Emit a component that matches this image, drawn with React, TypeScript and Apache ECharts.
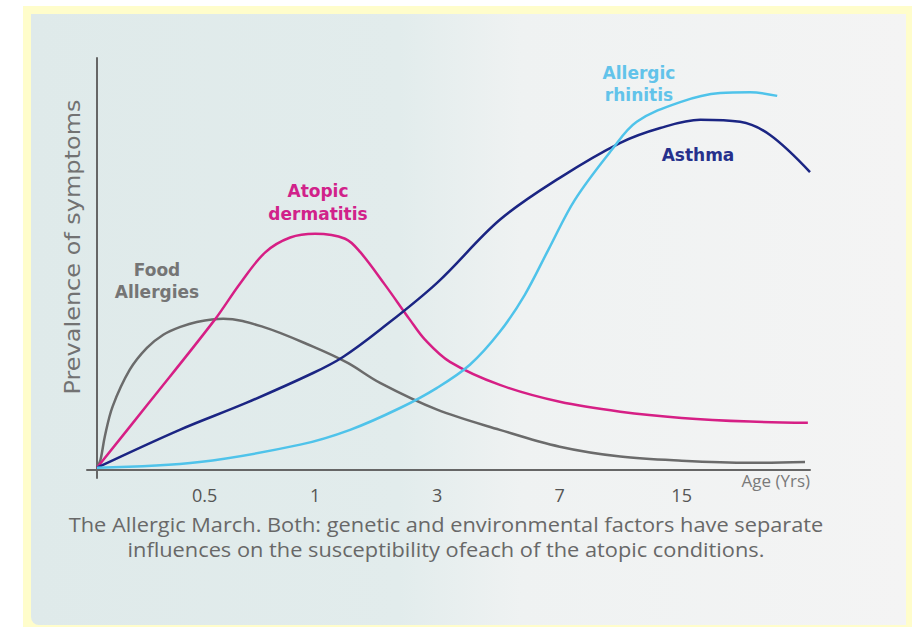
import React, { useEffect, useRef } from "react";
import * as echarts from "echarts";

// x positions are on a 0..100 "age scale" track; y is prevalence 0..100
const ageTickLabels = ["0.5", "1", "3", "7", "15"];
const ageTickPos = [15.1, 30.6, 47.7, 64.9, 82.0];

const foodAllergies: [number, number][] = [
  [0, 0.5], [0.5, 2.5], [1.1, 8.1], [2.2, 15.4], [4.6, 24.3], [7, 29.6], [9.3, 32.8],
  [11.7, 34.7], [14, 35.9], [17.7, 36.7], [23.3, 34.7], [30.3, 29.9], [35.1, 26],
  [39.7, 21.1], [47.7, 14.6], [56.5, 9.7], [64.9, 5.6], [73.4, 3.2], [82, 2.2],
  [91.6, 1.7], [99.3, 1.9],
];
const atopicDermatitis: [number, number][] = [
  [0, 0.5], [7.4, 16.5], [16.5, 36.4], [20.1, 45.3], [23.6, 52.8], [27.1, 56.4],
  [30.6, 57.3], [34.8, 56.1], [36.9, 52.9], [40.4, 44.9], [43.9, 36.4], [46, 31.6],
  [49.5, 26.2], [56.5, 20.6], [64.9, 16.5], [73.4, 14.1], [82, 12.6], [91.6, 11.7], [99.7, 11.4],
];
const asthma: [number, number][] = [
  [0, 0.5], [11.6, 9.7], [21, 16.3], [30.3, 23.5], [34.5, 27.4], [39.7, 34], [47.7, 45.4],
  [56.5, 60.7], [64.9, 70.9], [73.4, 79.4], [79, 83], [84.6, 85], [90.2, 84.5],
  [94.4, 81.3], [100, 72.3],
];
const allergicRhinitis: [number, number][] = [
  [0, 0.5], [14.4, 1.9], [28.5, 6.1], [35.5, 9.7], [42.5, 15], [47.7, 19.9], [52.3, 25.5],
  [56.5, 33.5], [60, 42.5], [63.3, 53.4], [67, 65.5], [72.2, 77.7], [75.7, 84.5],
  [81.8, 89.3], [87.4, 91.5], [91.6, 91.7], [95.4, 90.8],
];

const FONT = "'Open Sans', 'Noto Sans', sans-serif";
const WIDE = "'DejaVu Sans', 'Open Sans', sans-serif";

export default function App() {
  const ref = useRef<HTMLDivElement>(null);
  useEffect(() => {
    document.body.style.margin = "0";
    const chart = echarts.init(ref.current!, null, { renderer: "svg" });
    const line = (name: string, data: [number, number][], color: string) => ({
      type: "line",
      name,
      data,
      smooth: 0.35,
      symbol: "none",
      lineStyle: { color, width: 2.5 },
      z: 3,
    });
    chart.setOption({
      animation: false,
      graphic: [
        { type: "rect", z: -10, shape: { x: 23, y: 6, width: 900, height: 640 }, style: { fill: "#fffdcb" } },
        {
          type: "rect", z: -9,
          shape: { x: 31, y: 14, width: 875, height: 611, r: [0, 0, 0, 8] },
          style: {
            fill: new echarts.graphic.LinearGradient(0, 0, 1, 0, [
              { offset: 0, color: "#dfeaea" },
              { offset: 0.42, color: "#e2ecec" },
              { offset: 0.56, color: "#eff2f2" },
              { offset: 1, color: "#f4f4f4" },
            ]),
          },
        },
        { type: "text", rotation: Math.PI / 2, scaleX: 1.09, x: 72, y: 247, style: { text: "Prevalence of symptoms", fill: "#727272", font: `22px ${WIDE}`, align: "center", verticalAlign: "middle" } },
        { type: "text", x: 157, y: 281, style: { text: "Food\nAllergies", fill: "#757575", font: `bold 17px ${WIDE}`, align: "center", verticalAlign: "middle", lineHeight: 22 } },
        { type: "text", x: 318, y: 202, style: { text: "Atopic\ndermatitis", fill: "#d1228a", font: `bold 17px ${WIDE}`, align: "center", verticalAlign: "middle", lineHeight: 23 } },
        { type: "text", x: 639, y: 84, style: { text: "Allergic\nrhinitis", fill: "#62c3ea", font: `bold 17px ${WIDE}`, align: "center", verticalAlign: "middle", lineHeight: 22 } },
        { type: "text", x: 698, y: 155, style: { text: "Asthma", fill: "#26308c", font: `bold 17px ${WIDE}`, align: "center", verticalAlign: "middle" } },
        { type: "text", x: 446, y: 537, scaleX: 1.09, style: { text: "The Allergic March. Both: genetic and environmental factors have separate\ninfluences on the susceptibility ofeach of the atopic conditions.", fill: "#686868", font: `20px ${FONT}`, align: "center", verticalAlign: "middle", lineHeight: 25 } },
      ],
      grid: { left: 87, right: 102, top: 58, bottom: 149 },
      xAxis: {
        type: "value",
        min: -1.4,
        max: 100,
        name: "Age (Yrs)",
        nameLocation: "end",
        nameGap: 0,
        nameTextStyle: { color: "#7a7a7a", fontFamily: FONT, fontSize: 17, align: "right", verticalAlign: "top", padding: [2, 0, 0, 0] },
        axisLine: { onZero: true, lineStyle: { color: "#666", width: 2 } },
        axisTick: { show: false },
        splitLine: { show: false },
        axisLabel: {
          customValues: ageTickPos,
          formatter: (v: number) => {
            const i = ageTickPos.findIndex((p) => Math.abs(p - v) < 0.01);
            return i >= 0 ? ageTickLabels[i] : "";
          },
          color: "#555",
          fontFamily: FONT,
          fontSize: 18,
          margin: 8,
        },
      },
      yAxis: {
        type: "value",
        min: -2,
        max: 100,
        axisLine: { show: true, onZero: true, lineStyle: { color: "#666", width: 2 } },
        axisTick: { show: false },
        axisLabel: { show: false },
        splitLine: { show: false },
      },
      series: [
        line("Food Allergies", foodAllergies, "#6b6b6b"),
        line("Atopic dermatitis", atopicDermatitis, "#d61f85"),
        line("Asthma", asthma, "#1b2583"),
        line("Allergic rhinitis", allergicRhinitis, "#4fc3ea"),
      ],
    });
    return () => chart.dispose();
  }, []);
  return <div ref={ref} style={{ width: 912, height: 627 }} />;
}
